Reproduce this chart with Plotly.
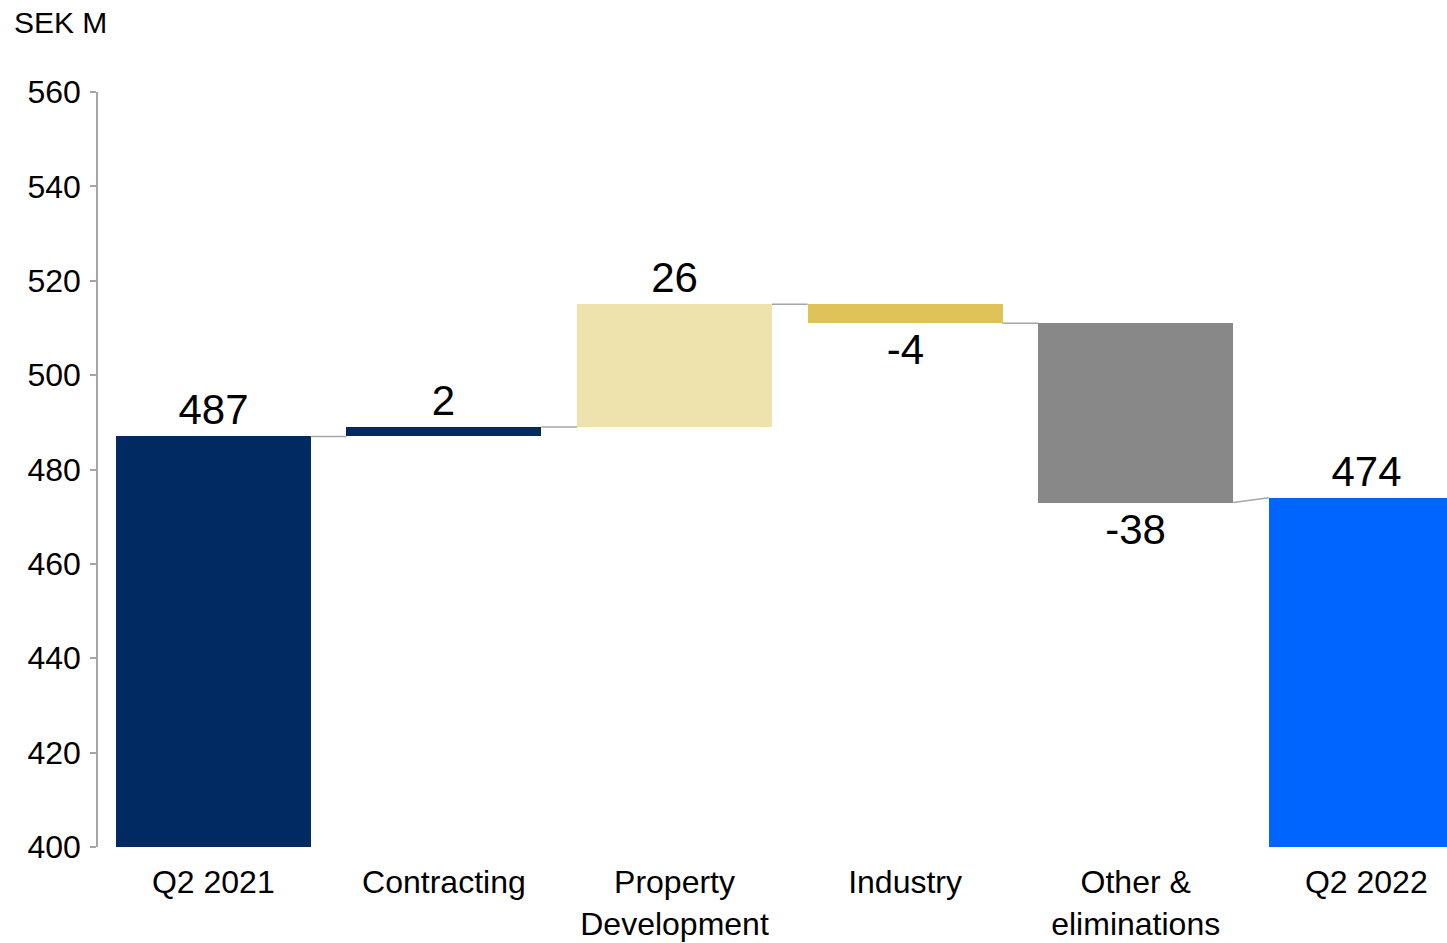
import plotly.graph_objects as go

# Operating profit bridge, SEK M
categories = ["Q2 2021", "Contracting", "Property<br>Development", "Industry",
              "Other &<br>eliminations", "Q2 2022"]
values = [487, 2, 26, -4, -38, 474]
measures = ["total", "relative", "relative", "relative", "relative", "total"]
bar_colors = ["#022A62", "#022A62", "#EFE3AD", "#DEC458", "#888888", "#0064FF"]
y_ticks = [400, 420, 440, 460, 480, 500, 520, 540, 560]

FONT = "Liberation Sans, Arial, sans-serif"
BAR_W = 0.845

# bases and running levels for the bridge
bases, starts, ends = [], [], []
level = 0
for v, m in zip(values, measures):
    if m == "total":
        bases.append(0)
        starts.append(v)
        level = v
        ends.append(v)
    else:
        bases.append(level)
        starts.append(level)
        level = level + v
        ends.append(level)

xs = list(range(len(categories)))

fig = go.Figure()

fig.add_trace(go.Bar(
    x=xs, y=values, base=bases,
    width=BAR_W,
    marker=dict(color=bar_colors, line=dict(width=0)),
    text=[str(v) for v in values],
    textposition="outside",
    textfont=dict(family=FONT, size=42, color="#000000"),
    constraintext="none",
    cliponaxis=False,
    hoverinfo="skip",
    showlegend=False,
))

# connector lines between consecutive bars
cx, cy = [], []
for i in range(len(values) - 1):
    cx += [i + BAR_W / 2, i + 1 - BAR_W / 2, None]
    cy += [ends[i], starts[i + 1], None]
fig.add_trace(go.Scatter(
    x=cx, y=cy, mode="lines",
    line=dict(color="#A6A6A6", width=1.5),
    hoverinfo="skip", showlegend=False,
))

fig.add_annotation(
    text="SEK M", xref="paper", yref="paper",
    x=-0.0635, y=1.117, xanchor="left", yanchor="top",
    showarrow=False, font=dict(family=FONT, size=30, color="#000000"),
)

fig.update_layout(
    width=1447, height=943,
    margin=dict(l=98, r=0, t=92, b=96),
    paper_bgcolor="white", plot_bgcolor="white",
    font=dict(family=FONT, color="#000000"),
    bargap=0,
)
fig.update_xaxes(
    range=[-0.5, 5.35], automargin=False,
    tickmode="array", tickvals=xs, ticktext=categories,
    tickfont=dict(family=FONT, size=32, color="#000000"),
    ticklabelstandoff=13,
    showline=False, showgrid=False, zeroline=False, ticks="",
)
fig.update_yaxes(
    range=[400, 560], automargin=False,
    tickmode="array", tickvals=y_ticks,
    tickfont=dict(family=FONT, size=32, color="#000000"),
    ticklabelstandoff=3,
    showline=True, linecolor="#A6A6A6", linewidth=1.5,
    ticks="outside", ticklen=6, tickcolor="#A6A6A6", tickwidth=1.5,
    showgrid=False, zeroline=False,
)

fig.write_html("out.html")
